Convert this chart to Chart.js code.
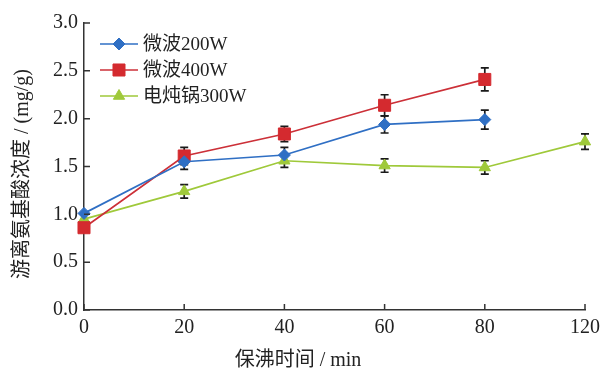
<!DOCTYPE html>
<html>
<head>
<meta charset="utf-8">
<script src="https://cdn.jsdelivr.net/npm/chart.js@4/dist/chart.umd.min.js"></script>
<style>
  html, body { margin: 0; padding: 0; background: #fff; }
  #wrap { width: 606px; height: 372px; position: relative; }
</style>
</head>
<body>
<div id="wrap"><canvas id="c" width="606" height="372"></canvas></div>
<script>
// ---- data ----
const timeLabels = ['0', '20', '40', '60', '80', '120'];
const yTicks = [0, 0.5, 1.0, 1.5, 2.0, 2.5, 3.0];
const seriesNames = ['微波200W', '微波400W', '电炖锅300W'];
const mw200 = [1.01, 1.55, 1.62, 1.94, 1.99, null];
const mw200Err = [0, 0.08, 0.08, 0.09, 0.10, null];
const mw400 = [0.86, 1.61, 1.84, 2.14, 2.41, null];
const mw400Err = [0, 0.09, 0.08, 0.11, 0.12, null];
const cooker = [0.95, 1.24, 1.56, 1.51, 1.49, 1.76];
const cookerErr = [0, 0.07, 0.07, 0.07, 0.07, 0.08];
const xTitle = '保沸时间 / min';
const yTitle = '游离氨基酸浓度 / (mg/g)';

const SERIF = "'Liberation Serif', 'Noto Sans CJK SC', serif";
const errs = [mw200Err, mw400Err, cookerErr];

const errorBarPlugin = {
  id: 'errorBars',
  beforeDatasetsDraw(chart) {
    const ctx = chart.ctx, ys = chart.scales.y;
    ctx.save();
    ctx.strokeStyle = '#1a1a1a';
    ctx.lineWidth = 1.7;
    chart.data.datasets.forEach((ds, di) => {
      const meta = chart.getDatasetMeta(di);
      meta.data.forEach((pt, i) => {
        const v = ds.data[i], e = errs[di][i];
        if (v == null || !e) return;
        const x = pt.x;
        const yt = ys.getPixelForValue(v + e), yb = ys.getPixelForValue(v - e);
        ctx.beginPath();
        ctx.moveTo(x, yt); ctx.lineTo(x, yb);
        ctx.moveTo(x - 4, yt); ctx.lineTo(x + 4, yt);
        ctx.moveTo(x - 4, yb); ctx.lineTo(x + 4, yb);
        ctx.stroke();
      });
    });
    ctx.restore();
  }
};

const inwardTicksPlugin = {
  id: 'inwardTicks',
  afterDraw(chart) {
    const ctx = chart.ctx, xs = chart.scales.x, ys = chart.scales.y;
    const a = chart.chartArea;
    ctx.save();
    ctx.strokeStyle = '#333';
    ctx.lineWidth = 1.5;
    ctx.beginPath();
    xs.ticks.forEach((t, i) => {
      const x = xs.getPixelForTick(i);
      ctx.moveTo(x, a.bottom); ctx.lineTo(x, a.bottom - 6);
    });
    ys.ticks.forEach((t, i) => {
      const y = ys.getPixelForTick(i);
      ctx.moveTo(a.left, y); ctx.lineTo(a.left + 6, y);
    });
    ctx.stroke();
    ctx.restore();
  }
};

const axisTitlesPlugin = {
  id: 'axisTitles',
  afterDraw(chart) {
    const ctx = chart.ctx;
    ctx.save();
    ctx.fillStyle = '#222';
    ctx.font = "20px " + SERIF;
    ctx.textAlign = 'center';
    ctx.textBaseline = 'middle';
    ctx.fillText(xTitle, 298, 361);
    ctx.translate(23, 174);
    ctx.rotate(-Math.PI / 2);
    ctx.fillText(yTitle, 0, 0);
    ctx.restore();
  }
};

const legendPlugin = {
  id: 'customLegend',
  afterDatasetsDraw(chart) {
    const ctx = chart.ctx;
    const x0 = 100, x1 = 138, rows = [44, 70, 96];
    ctx.save();
    chart.data.datasets.forEach((ds, di) => {
      const y = rows[di];
      ctx.strokeStyle = ds.borderColor;
      ctx.lineWidth = ds.borderWidth;
      ctx.beginPath(); ctx.moveTo(x0, y); ctx.lineTo(x1, y); ctx.stroke();
      ctx.fillStyle = ds.pointBackgroundColor;
      ctx.strokeStyle = ds.pointBorderColor;
      ctx.lineWidth = 1;
      Chart.helpers.drawPoint(ctx, {
        pointStyle: ds.pointStyle, radius: ds.pointRadius, borderWidth: 1, rotation: 0
      }, (x0 + x1) / 2, y);
      ctx.fillStyle = '#222';
      ctx.font = "19px " + SERIF;
      ctx.textBaseline = 'middle';
      ctx.textAlign = 'left';
      ctx.fillText(ds.label, x1 + 5, y + 1);
    });
    ctx.restore();
  }
};

const blue = '#2f6fc4', red = '#d42a2f', green = '#9fc93a';

new Chart(document.getElementById('c'), {
  type: 'line',
  data: {
    labels: timeLabels,
    datasets: [
      { label: seriesNames[0], data: mw200, borderColor: blue, backgroundColor: blue,
        pointBackgroundColor: blue, pointBorderColor: blue, borderWidth: 1.7,
        pointStyle: 'rectRot', pointRadius: 6, pointBorderWidth: 1 },
      { label: seriesNames[1], data: mw400, borderColor: '#cc3038', backgroundColor: red,
        pointBackgroundColor: red, pointBorderColor: red, borderWidth: 1.7,
        pointStyle: 'rect', pointRadius: 8.5, pointBorderWidth: 1 },
      { label: seriesNames[2], data: cooker, borderColor: green, backgroundColor: green,
        pointBackgroundColor: green, pointBorderColor: green, borderWidth: 1.7,
        pointStyle: 'triangle', pointRadius: 6.5, pointBorderWidth: 1 }
    ]
  },
  options: {
    responsive: false,
    animation: false,
    spanGaps: false,
    layout: { padding: { left: 0, right: 21, top: 23, bottom: 0 } },
    plugins: { legend: { display: false }, tooltip: { enabled: false } },
    elements: { line: { tension: 0 } },
    scales: {
      x: {
        type: 'category',
        offset: false,
        grid: { display: false, drawTicks: false },
        border: { display: true, color: '#333', width: 1.5 },
        ticks: { font: { size: 20, family: SERIF }, color: '#222', padding: 6, maxRotation: 0, autoSkip: false },
        title: { display: false, text: xTitle },
        afterFit(s) { s.height = 62; }
      },
      y: {
        min: 0, max: 3,
        afterBuildTicks(s) { s.ticks = yTicks.map(v => ({ value: v })); },
        grid: { display: false, drawTicks: false },
        border: { display: true, color: '#333', width: 1.5 },
        ticks: { font: { size: 20, family: SERIF }, color: '#222', padding: 6, callback: v => Number(v).toFixed(1) },
        title: { display: false, text: yTitle },
        afterFit(s) { s.width = 84; }
      }
    }
  },
  plugins: [errorBarPlugin, inwardTicksPlugin, legendPlugin, axisTitlesPlugin]
});
</script>
</body>
</html>
